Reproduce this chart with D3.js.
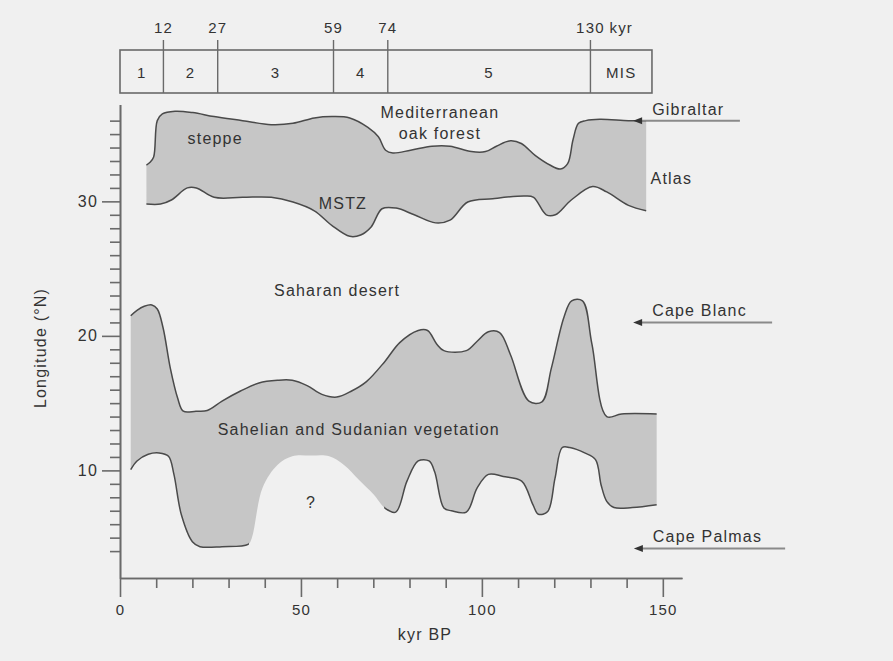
<!DOCTYPE html>
<html>
<head>
<meta charset="utf-8">
<script src="https://cdn.jsdelivr.net/npm/d3@7"></script>
<style>
  body { margin: 0; background: #f0f0f0; }
  svg text { font-family: "Liberation Sans", Arial, sans-serif; fill: #333; letter-spacing: 1.2px; }
</style>
</head>
<body>
<svg id="chart" width="893" height="661"></svg>
<script>
// marine isotope stage boundaries (kyr) and names
var misBounds = [0, 12, 27, 59, 74, 130, 147];
var misNames = ["1", "2", "3", "4", "5", "MIS"];

// vegetation belt limits, [kyr BP, latitude N]
var mstzTop = [[7.3,32.7],[8.3,32.9],[9.3,33.3],[10.3,36.0],[11.7,36.5],[15.2,36.7],[20.1,36.6],[26.0,36.3],[33.9,36.0],[41.8,35.7],[47.8,35.8],[53.7,36.2],[58.6,36.3],[63.5,36.2],[68.5,35.5],[71.4,34.8],[73.4,33.8],[75.4,33.6],[80.3,33.8],[86.2,34.1],[91.2,34.1],[97.1,33.7],[101.0,33.7],[104.0,34.1],[107.9,34.5],[110.9,34.3],[114.8,33.4],[118.8,32.7],[121.7,32.4],[123.7,32.8],[125.2,34.6],[126.7,35.8],[128.7,36.0],[132.6,36.1],[140.5,36.0],[145.4,36.0]];
var mstzBottom = [[7.3,29.8],[11.2,29.8],[14.2,30.1],[18.6,31.0],[21.1,31.0],[26.0,30.3],[33.9,30.3],[41.8,30.3],[47.8,29.95],[53.7,29.3],[58.6,28.2],[63.5,27.4],[66.5,27.5],[69.4,28.1],[72.4,29.45],[76.3,29.5],[81.3,29.0],[87.2,28.4],[91.2,28.6],[96.1,29.95],[103.0,30.2],[111.9,30.4],[114.3,30.3],[117.8,29.0],[120.3,29.0],[124.7,30.1],[130.6,31.1],[134.5,30.7],[140.5,29.7],[145.4,29.3]];
var sahelTop = [[2.96,21.5],[4.7,21.9],[6.7,22.2],[8.8,22.3],[10.3,22.0],[11.9,20.6],[13.9,17.6],[15.9,15.4],[17.5,14.4],[21.0,14.4],[24.1,14.45],[28.2,15.15],[33.3,15.9],[38.4,16.5],[43.5,16.7],[47.6,16.7],[51.7,16.3],[55.8,15.65],[59.9,15.45],[64.0,15.9],[68.1,16.6],[73.2,18.1],[77.3,19.5],[82.4,20.4],[85.0,20.4],[87.5,19.4],[89.5,18.9],[95.7,18.9],[98.7,19.6],[101.8,20.3],[104.9,20.25],[107.9,18.6],[113.0,15.15],[116.6,15.1],[119.2,17.6],[122.7,21.4],[124.8,22.6],[127.8,22.6],[130.4,19.4],[134.5,14.0],[138.6,14.2],[148.3,14.2]];
var sahelBottom = [[2.96,10.05],[4.7,10.7],[7.8,11.2],[10.8,11.3],[13.4,11.05],[14.9,9.7],[16.96,6.7],[20.0,4.7],[22.1,4.33],[28.2,4.33],[35.4,4.5],[36.4,4.95],[39.4,8.7],[43.5,10.4],[47.6,11.05],[52.7,11.1],[57.8,11.05],[61.9,10.4],[66.0,9.3],[70.1,8.2],[73.2,7.2],[76.2,6.9],[79.3,9.2],[82.4,10.7],[85.4,10.7],[86.95,9.9],[89.5,7.2],[91.6,7.0],[95.7,6.9],[98.7,8.7],[101.8,9.7],[105.9,9.55],[111.0,9.2],[114.1,7.45],[115.6,6.74],[118.2,6.95],[120.2,9.4],[122.2,11.7],[124.3,11.7],[128.4,11.3],[131.4,10.8],[132.96,8.9],[134.5,7.7],[136.5,7.24],[141.6,7.24],[148.3,7.45]];
var unknownGap = [35.6, 73.0]; // lower limit uncertain here

// coastal landmarks: name, latitude, arrow start / end (kyr)
var capes = [["Gibraltar", 36, 141.8, 171.3], ["Cape Blanc", 21, 141.8, 180.2], ["Cape Palmas", 4.2, 142.0, 183.8]];

// region labels: text, kyr, lat, anchor
var regions = [
  ["Mediterranean", 88.4, 36.2, "middle"],
  ["oak forest", 88.4, 34.6, "middle"],
  ["steppe", 26.3, 34.3, "middle"],
  ["MSTZ", 61.6, 29.4, "middle"],
  ["Atlas", 146.6, 31.3, "start"],
  ["Saharan desert", 60, 23.0, "middle"],
  ["Sahelian and Sudanian vegetation", 66, 12.6, "middle"],
  ["?", 52.8, 7.2, "middle"]
];

var svg = d3.select("#chart");
svg.append("rect").attr("width", 893).attr("height", 661).style("fill", "#f0f0f0");

var x = d3.scaleLinear().domain([0, 155.3]).range([120, 682]);
var y = d3.scaleLinear().domain([2, 37.2]).range([578, 104.5]);

var line = d3.line()
    .x(function(d) { return x(d[0]); })
    .y(function(d) { return y(d[1]); })
    .curve(d3.curveCatmullRom.alpha(0.5));

function bandPath(top, bottom) {
    var back = line(bottom.slice().reverse());
    return line(top) + "L" + back.substring(1) + "Z";
}

// clip for the uncertain part of the lower limit
svg.append("clipPath").attr("id", "gapclip")
    .selectAll("rect")
    .data([[0, x(unknownGap[0])], [x(unknownGap[1]), 893]])
    .enter().append("rect")
    .attr("x", function(d) { return d[0]; })
    .attr("width", function(d) { return d[1] - d[0]; })
    .attr("y", 0).attr("height", 661);

var g = svg.append("g");

[[mstzTop, mstzBottom], [sahelTop, sahelBottom]].forEach(function(b) {
    g.append("path").attr("d", bandPath(b[0], b[1]))
        .style("fill", "#c6c6c6").style("stroke", "none");
});

g.selectAll("path.limit")
    .data([mstzTop, mstzBottom, sahelTop])
    .enter().append("path")
    .attr("class", "limit")
    .attr("d", line)
    .style("fill", "none").style("stroke", "#4a4a4a").style("stroke-width", 1.5);

g.append("path").attr("d", line(sahelBottom))
    .attr("clip-path", "url(#gapclip)")
    .style("fill", "none").style("stroke", "#4a4a4a").style("stroke-width", 1.5);

// axes
var xMinor = d3.range(10, 151, 10).filter(function(v) { return v % 50 != 0; });
var yMinor = d3.range(4, 37).filter(function(v) { return v % 10 != 0; });

function styleAxis(sel) {
    sel.selectAll("path.domain").style("stroke", "#6a6a6a").style("stroke-width", 1.6);
    sel.selectAll(".tick line").style("stroke", "#6a6a6a").style("stroke-width", 1.6);
    sel.selectAll("text").style("font-size", "15px").style("fill", "#333").attr("font-family", null);
}

svg.append("g").attr("transform", "translate(0,578)")
    .call(d3.axisBottom(x).tickValues(xMinor).tickSize(10).tickSizeOuter(0).tickFormat(""))
    .call(styleAxis);
svg.append("g").attr("transform", "translate(0,578)")
    .call(d3.axisBottom(x).tickValues([0, 50, 100, 150]).tickSize(19).tickPadding(7).tickSizeOuter(0))
    .call(styleAxis);

svg.append("g").attr("transform", "translate(120,0)")
    .call(d3.axisLeft(y).tickValues(yMinor).tickSize(10).tickSizeOuter(0).tickFormat(""))
    .call(styleAxis);
svg.append("g").attr("transform", "translate(120,0)")
    .call(d3.axisLeft(y).tickValues([10, 20, 30]).tickSize(18).tickPadding(4).tickSizeOuter(0))
    .call(styleAxis)
    .selectAll("text").style("font-size", "16px");

svg.append("text").attr("x", 425).attr("y", 640)
    .attr("text-anchor", "middle").style("font-size", "16px").text("kyr BP");
svg.append("text").attr("transform", "translate(46,348) rotate(-90)")
    .attr("text-anchor", "middle").style("font-size", "16px").text("Longitude (°N)");

// MIS bar
var mis = svg.append("g");
mis.append("rect")
    .attr("x", x(misBounds[0])).attr("y", 50)
    .attr("width", x(misBounds[misBounds.length - 1]) - x(misBounds[0])).attr("height", 43)
    .style("fill", "none").style("stroke", "#6a6a6a").style("stroke-width", 1.6);

var inner = misBounds.slice(1, misBounds.length - 1);
mis.selectAll("line.b").data(inner).enter().append("line")
    .attr("x1", function(d) { return x(d); }).attr("x2", function(d) { return x(d); })
    .attr("y1", 40).attr("y2", 93)
    .style("stroke", "#6a6a6a").style("stroke-width", 1.4);

mis.selectAll("text.b").data(inner).enter().append("text")
    .attr("x", function(d) { return x(d); }).attr("y", 33)
    .attr("text-anchor", "middle").style("font-size", "15px")
    .text(function(d) { return d; });
mis.append("text").attr("x", x(inner[inner.length - 1]) + 19).attr("y", 33)
    .style("font-size", "15px").text("kyr");

mis.selectAll("text.n").data(misNames).enter().append("text")
    .attr("x", function(d, i) { return (x(misBounds[i]) + x(misBounds[i + 1])) / 2; })
    .attr("y", 78).attr("text-anchor", "middle").style("font-size", "15px")
    .text(function(d) { return d; });

// region labels
svg.selectAll("text.region").data(regions).enter().append("text")
    .attr("x", function(d) { return x(d[1]); })
    .attr("y", function(d) { return y(d[2]); })
    .attr("text-anchor", function(d) { return d[3]; })
    .style("font-size", "16px")
    .text(function(d) { return d[0]; });

// landmark arrows
var cg = svg.selectAll("g.cape").data(capes).enter().append("g");
cg.append("line")
    .attr("x1", function(d) { return x(d[2]) + 6; }).attr("x2", function(d) { return x(d[3]); })
    .attr("y1", function(d) { return y(d[1]); }).attr("y2", function(d) { return y(d[1]); })
    .style("stroke", "#8a8a8a").style("stroke-width", 2);
cg.append("path")
    .attr("d", function(d) {
        var tx = x(d[2]), ty = y(d[1]);
        return "M" + tx + "," + ty + "L" + (tx + 9) + "," + (ty - 3.5) + "L" + (tx + 9) + "," + (ty + 3.5) + "Z";
    })
    .style("fill", "#333");
cg.append("text")
    .attr("x", function(d) { return x(d[2]) + 19; })
    .attr("y", function(d) { return y(d[1]) - 6; })
    .style("font-size", "16px")
    .text(function(d) { return d[0]; });
</script>
</body>
</html>
